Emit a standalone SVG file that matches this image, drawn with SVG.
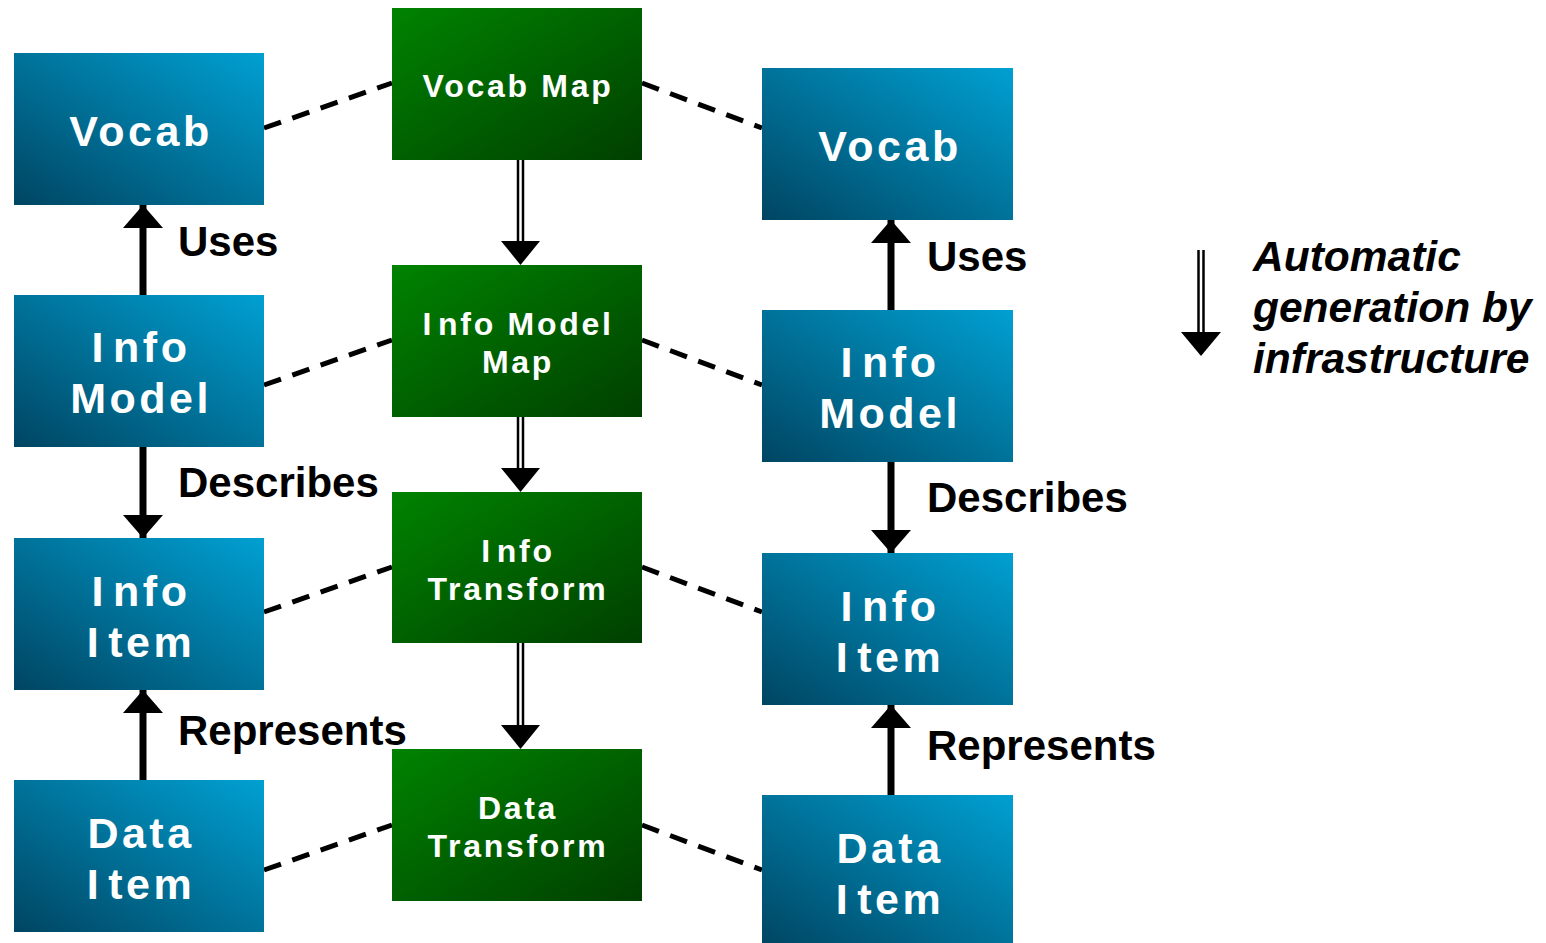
<svg xmlns="http://www.w3.org/2000/svg" width="1546" height="943" viewBox="0 0 1546 943">
  <defs>
    <linearGradient id="blueFill" x1="1" y1="0" x2="0" y2="1">
      <stop offset="0" stop-color="#00a0d2"/>
      <stop offset="1" stop-color="#004562"/>
    </linearGradient>
    <linearGradient id="greenFill" x1="0" y1="0" x2="1" y2="1">
      <stop offset="0" stop-color="#008300"/>
      <stop offset="1" stop-color="#003f00"/>
    </linearGradient>
    <marker id="head" markerUnits="userSpaceOnUse" markerWidth="24" markerHeight="40" refX="23" refY="20" orient="auto">
      <path d="M0,0 L23,20 L0,40 Z" fill="#000"/>
    </marker>
  </defs>
  <style>
    .blue { fill: url(#blueFill); }
    .green { fill: url(#greenFill); }
    .bt { font-family: "Liberation Sans", Arial, sans-serif; font-weight: bold; font-size: 43px; letter-spacing: 3.5px; fill: #fff; text-anchor: middle; }
    .gt { font-family: "Liberation Sans", Arial, sans-serif; font-weight: bold; font-size: 32px; letter-spacing: 2.7px; fill: #fff; text-anchor: middle; }
    .lbl { font-family: "Liberation Sans", Arial, sans-serif; font-weight: bold; font-size: 42px; fill: #000; }
    .leg { font-family: "Liberation Sans", Arial, sans-serif; font-weight: bold; font-style: italic; font-size: 42.5px; fill: #000; }
    .dash { stroke: #000; stroke-width: 5; stroke-dasharray: 18 12; fill: none; }
    .solid { stroke: #000; stroke-width: 7; fill: none; marker-end: url(#head); }
    .gen { stroke: #000; stroke-width: 7.5; fill: none; }
    .genIn { stroke: #fff; stroke-width: 2.5; fill: none; }
  </style>

  <!-- connectors -->
  <g id="connectors">
    <!-- dashed mapping links -->
    <line class="dash" x1="264" y1="128" x2="392" y2="83"/>
    <line class="dash" x1="642" y1="83" x2="762" y2="128"/>
    <line class="dash" x1="264" y1="385" x2="392" y2="340"/>
    <line class="dash" x1="642" y1="340" x2="762" y2="385"/>
    <line class="dash" x1="264" y1="612" x2="392" y2="567"/>
    <line class="dash" x1="642" y1="567" x2="762" y2="612"/>
    <line class="dash" x1="264" y1="870" x2="392" y2="825"/>
    <line class="dash" x1="642" y1="825" x2="762" y2="870"/>

    <!-- solid relation arrows -->
    <line class="solid" x1="143" y1="295" x2="143" y2="205"/>
    <line class="solid" x1="143" y1="447" x2="143" y2="538"/>
    <line class="solid" x1="143" y1="780" x2="143" y2="690"/>
    <line class="solid" x1="891" y1="310" x2="891" y2="220"/>
    <line class="solid" x1="891" y1="462" x2="891" y2="553"/>
    <line class="solid" x1="891" y1="795" x2="891" y2="705"/>

    <!-- automatic generation arrows (double shaft) -->
    <g>
      <line class="gen" x1="520.5" y1="160" x2="520.5" y2="243"/>
      <line class="genIn" x1="520.5" y1="160" x2="520.5" y2="243"/>
      <path d="M501,241 L540,241 L520.5,265 Z" fill="#000"/>
    </g>
    <g>
      <line class="gen" x1="520.5" y1="402" x2="520.5" y2="470"/>
      <line class="genIn" x1="520.5" y1="402" x2="520.5" y2="470"/>
      <path d="M501,468 L540,468 L520.5,492 Z" fill="#000"/>
    </g>
    <g>
      <line class="gen" x1="520.5" y1="643" x2="520.5" y2="727"/>
      <line class="genIn" x1="520.5" y1="643" x2="520.5" y2="727"/>
      <path d="M501,725 L540,725 L520.5,749 Z" fill="#000"/>
    </g>
  </g>

  <!-- relation labels -->
  <g id="labels">
    <text class="lbl" x="178" y="256">Uses</text>
    <text class="lbl" x="178" y="497">Describes</text>
    <text class="lbl" x="178" y="745">Represents</text>
    <text class="lbl" x="927" y="271">Uses</text>
    <text class="lbl" x="927" y="512">Describes</text>
    <text class="lbl" x="927" y="760">Represents</text>
  </g>

  <!-- left column -->
  <g id="vocab-left">
    <rect class="blue" x="14" y="53" width="250" height="152"/>
    <text class="bt" x="141" y="146">Vocab</text>
  </g>
  <g id="infomodel-left">
    <rect class="blue" x="14" y="295" width="250" height="152"/>
    <text class="bt" x="141" y="362">I<tspan dx="6">nfo</tspan></text>
    <text class="bt" x="141" y="413">Model</text>
  </g>
  <g id="infoitem-left">
    <rect class="blue" x="14" y="538" width="250" height="152"/>
    <text class="bt" x="141" y="606">I<tspan dx="6">nfo</tspan></text>
    <text class="bt" x="141" y="657">I<tspan dx="6">tem</tspan></text>
  </g>
  <g id="dataitem-left">
    <rect class="blue" x="14" y="780" width="250" height="152"/>
    <text class="bt" x="141" y="848">Data</text>
    <text class="bt" x="141" y="899">I<tspan dx="6">tem</tspan></text>
  </g>

  <!-- mapping column -->
  <g id="vocab-map">
    <rect class="green" x="392" y="8" width="250" height="152"/>
    <text class="gt" x="518" y="97">Vocab Map</text>
  </g>
  <g id="infomodel-map">
    <rect class="green" x="392" y="265" width="250" height="152"/>
    <text class="gt" x="518" y="335">I<tspan dx="4">nfo Model</tspan></text>
    <text class="gt" x="518" y="373">Map</text>
  </g>
  <g id="info-transform">
    <rect class="green" x="392" y="492" width="250" height="151"/>
    <text class="gt" x="518" y="562">I<tspan dx="4">nfo</tspan></text>
    <text class="gt" x="518" y="600">Transform</text>
  </g>
  <g id="data-transform">
    <rect class="green" x="392" y="749" width="250" height="152"/>
    <text class="gt" x="518" y="819">Data</text>
    <text class="gt" x="518" y="857">Transform</text>
  </g>

  <!-- right column -->
  <g id="vocab-right">
    <rect class="blue" x="762" y="68" width="251" height="152"/>
    <text class="bt" x="890" y="161">Vocab</text>
  </g>
  <g id="infomodel-right">
    <rect class="blue" x="762" y="310" width="251" height="152"/>
    <text class="bt" x="890" y="377">I<tspan dx="6">nfo</tspan></text>
    <text class="bt" x="890" y="428">Model</text>
  </g>
  <g id="infoitem-right">
    <rect class="blue" x="762" y="553" width="251" height="152"/>
    <text class="bt" x="890" y="621">I<tspan dx="6">nfo</tspan></text>
    <text class="bt" x="890" y="672">I<tspan dx="6">tem</tspan></text>
  </g>
  <g id="dataitem-right">
    <rect class="blue" x="762" y="795" width="251" height="152"/>
    <text class="bt" x="890" y="863">Data</text>
    <text class="bt" x="890" y="914">I<tspan dx="6">tem</tspan></text>
  </g>

  <!-- legend -->
  <g id="legend">
    <line class="gen" x1="1201" y1="250" x2="1201" y2="334"/>
    <line class="genIn" x1="1201" y1="250" x2="1201" y2="334"/>
    <path d="M1181,332 L1221,332 L1201,356 Z" fill="#000"/>
    <text class="leg" x="1253" y="271">Automatic</text>
    <text class="leg" x="1253" y="322">generation by</text>
    <text class="leg" x="1253" y="373">infrastructure</text>
  </g>
</svg>
